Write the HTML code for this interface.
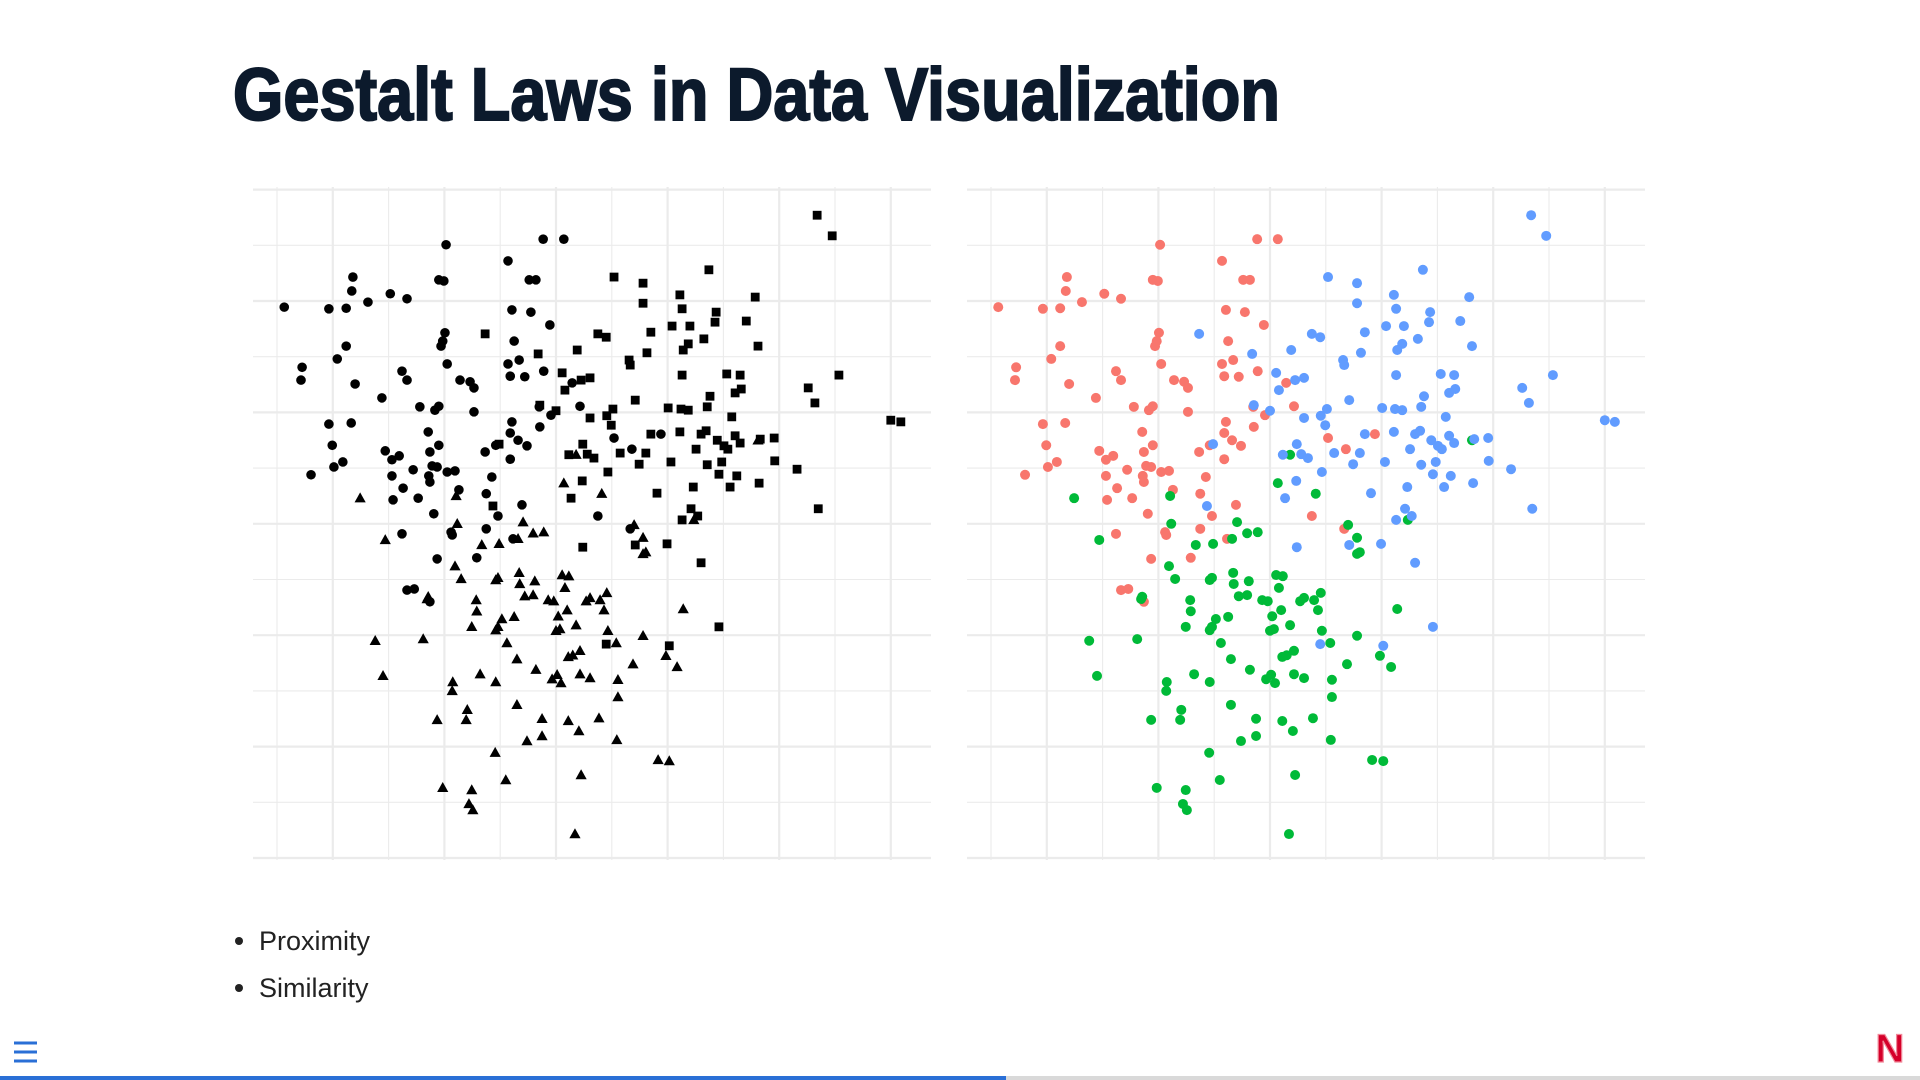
<!DOCTYPE html>
<html><head><meta charset="utf-8"><style>
html,body{margin:0;padding:0;background:#fff;width:1920px;height:1080px;overflow:hidden}
svg{display:block}
</style></head><body>
<svg id="page" width="1920" height="1080" viewBox="0 0 1920 1080" xmlns="http://www.w3.org/2000/svg">
<text x="233" y="120" font-family="Liberation Sans, sans-serif" font-weight="bold" font-size="74" fill="#0c1a2c" stroke="#0c1a2c" stroke-width="2" textLength="1047" lengthAdjust="spacingAndGlyphs">Gestalt Laws in Data Visualization</text>
<g id="left-panel"></g>
<g id="right-panel"></g>
<g font-family="Liberation Sans, sans-serif" font-size="27" fill="#222">
<circle cx="239" cy="941" r="4" fill="#222"/>
<text x="259" y="950">Proximity</text>
<circle cx="239" cy="988" r="4" fill="#222"/>
<text x="259" y="997">Similarity</text>
</g>
<g stroke="#2a6fd6" stroke-width="3">
<line x1="14" y1="1043" x2="37" y2="1043"/><line x1="14" y1="1052" x2="37" y2="1052"/><line x1="14" y1="1061" x2="37" y2="1061"/>
</g>
<rect x="0" y="1076" width="1920" height="4" fill="#d9d9d9"/>
<rect x="0" y="1076" width="1006" height="4" fill="#2a6fd6"/>
<text x="1890" y="1062" text-anchor="middle" font-family="Liberation Sans, sans-serif" font-weight="bold" font-size="40" fill="#d5002a" stroke="#f08a9a" stroke-width="1.2">N</text>
</svg>
<script>
const redX=[3.03,4.77,5.14,4.14,1.36,1.34,2.90,2.99,4.52,4.64,0.13,0.93,1.24,1.63,2.03,2.33,4.21,4.55,4.89,3.01,2.97,2.94,1.24,1.08,0.45,0.43,1.40,2.24,2.33,3.05,4.25,4.34,4.14,4.18,4.44,4.78,5.29,3.28,3.46,3.53,1.88,2.56,2.83,2.90,3.53,4.70,4.91,5.43,0.93,1.33,4.21,4.18,4.71,2.71,0.99,4.32,4.48,3.92,1.94,2.19,2.06,2.74,2.90,3.73,4.18,1.18,1.02,0.61,2.44,2.78,2.87,3.05,3.19,2.06,2.72,2.74,3.85,2.26,2.08,2.53,3.26,3.75,4.39,2.81,3.96,3.75,6.04,6.88,6.36,5.75,2.24,3.12,3.14,4.23,2.87,3.58,2.33,2.46,2.74,6.33];
const redY=[11.01,11.11,11.11,10.72,10.43,10.18,10.38,10.36,10.38,10.38,9.89,9.86,9.87,9.98,10.13,10.04,9.84,9.80,9.57,9.43,9.28,9.19,9.19,8.96,8.81,8.58,8.51,8.74,8.58,8.87,9.28,8.94,8.87,8.65,8.64,8.74,8.53,8.58,8.55,8.44,8.26,8.10,8.04,8.11,8.01,8.10,7.95,8.11,7.79,7.81,7.83,7.63,7.74,7.65,7.41,7.50,7.40,7.41,7.31,7.22,7.15,7.29,7.41,7.29,7.16,7.11,7.02,6.88,6.97,7.04,7.02,6.93,6.95,6.86,6.86,6.75,6.84,6.64,6.43,6.46,6.61,6.54,6.34,6.18,6.14,5.91,7.54,7.61,7.34,6.14,5.82,5.85,5.80,5.73,5.37,5.39,4.81,4.83,4.60,5.91];
const blueX=[3.73,4.68,5.38,5.11,5.45,5.16,4.71,5.00,3.98,5.48,5.23,5.56,5.47,5.27,3.87,9.68,9.95,7.74,6.04,6.56,8.57,7.22,6.56,7.26,7.87,7.85,8.41,6.70,7.08,7.40,5.75,5.90,7.65,7.37,7.28,8.62,6.63,6.31,6.33,5.61,7.26,8.06,8.30,10.07,9.52,9.64,8.32,8.21,7.76,6.42,7.01,7.24,7.37,7.71,6.02,5.91,5.61,5.99,8.15,11.00,11.18,6.70,7.22,7.60,7.69,8.21,7.89,8.01,8.08,8.30,8.66,8.91,7.51,6.15,6.61,5.68,6.49,7.06,7.71,7.97,8.92,9.32,5.93,7.92,8.24,8.64,8.12,7.46,6.81,9.70,7.42,7.54,7.26,5.48,6.42,6.99,7.60,7.92,5.90,7.03];
const blueY=[9.41,9.05,9.12,8.71,8.58,8.40,8.13,8.03,7.43,7.43,7.24,7.25,6.77,6.46,6.32,11.54,11.17,10.56,10.43,10.32,10.07,10.11,9.96,9.86,9.80,9.62,9.64,9.44,9.55,9.55,9.41,9.35,9.32,9.23,9.12,9.19,9.07,8.94,8.85,8.62,8.67,8.69,8.67,8.67,8.44,8.17,8.42,8.35,8.29,8.22,8.08,8.06,8.04,8.10,8.06,7.94,7.90,7.77,7.92,7.86,7.83,7.61,7.65,7.61,7.67,7.58,7.50,7.40,7.34,7.45,7.52,7.54,7.34,7.27,7.27,7.18,7.07,7.11,7.06,7.11,7.13,6.98,6.93,6.89,6.86,6.73,6.66,6.66,6.55,6.27,6.27,6.14,6.07,5.58,5.62,5.64,5.30,4.15,3.84,3.81];
const greenX=[1.49,3.21,5.14,5.36,3.23,4.41,8.62,5.82,6.40,7.47,1.94,4.59,4.78,4.32,3.67,3.98,3.19,3.30,3.92,3.96,4.34,4.35,4.62,5.11,5.23,5.16,4.44,4.59,4.86,4.96,5.54,5.61,2.69,2.71,3.57,3.58,4.03,4.25,5.20,5.04,3.49,3.92,3.96,5.00,5.07,5.36,1.76,2.62,4.12,4.30,4.64,5.22,5.30,5.43,1.90,3.64,3.92,3.15,3.14,4.93,5.02,5.09,5.43,5.61,4.30,3.41,3.39,2.87,4.75,5.22,5.41,4.75,4.48,3.91,5.45,4.10,2.97,3.49,3.44,3.51,5.34,6.56,6.56,6.61,5.79,5.91,5.86,7.28,5.93,6.56,6.08,6.97,6.38,7.17,6.11,6.11,5.77,6.09,6.83,7.03];
const greenY=[6.46,6.50,6.73,7.24,6.00,6.03,7.50,6.54,5.98,6.07,5.71,5.83,5.85,5.73,5.62,5.64,5.24,5.01,4.99,5.03,5.12,4.92,4.97,5.08,5.06,4.85,4.70,4.72,4.63,4.61,4.61,4.67,4.65,4.69,4.63,4.43,4.29,4.33,4.45,4.34,4.15,4.09,4.15,4.08,4.11,4.18,3.90,3.93,3.86,3.57,3.38,3.61,3.64,3.72,3.27,3.30,3.16,3.16,3.00,3.21,3.29,3.14,3.30,3.23,2.75,2.66,2.48,2.48,2.50,2.46,2.28,2.19,2.10,1.89,1.49,1.40,1.26,1.22,0.97,0.86,0.43,5.75,5.46,5.49,4.63,4.76,4.45,4.47,4.08,3.99,3.86,3.63,3.48,3.43,3.20,2.89,2.51,2.12,1.76,1.74];

const NS='http://www.w3.org/2000/svg';
const PLOT_TOP=187,PLOT_BOTTOM=860,PLOT_W=678,UNIT_X=55.8,UNIT_Y=55.7;
function yScale(v){return 858-v*UNIT_Y;}
function makeX(left){return v=>left+24+v*UNIT_X;}
function mk(tag,attrs,parent){const e=document.createElementNS(NS,tag);for(const k in attrs)e.setAttribute(k,attrs[k]);parent.appendChild(e);return e;}

function drawGrid(g,left){
  const xs=makeX(left);
  for(let j=0;j<=12;j++){
    const ln=mk('line',{x1:left,x2:left+PLOT_W,y1:yScale(j),y2:yScale(j),stroke:'#ebebeb','stroke-width':j%2===0?2.2:1.1},g);
    
    
  }
  for(let i=0;i<=11;i++){
    const ln=mk('line',{x1:xs(i),x2:xs(i),y1:PLOT_TOP,y2:PLOT_BOTTOM,stroke:'#ebebeb','stroke-width':i%2===1?2.2:1.1},g);
    
    
  }
}
const left=document.getElementById('left-panel');
const right=document.getElementById('right-panel');
drawGrid(left,253);
drawGrid(right,967);
const xl=makeX(253), xr=makeX(967);

redX.forEach((v,i)=>{
  const c=mk('circle',{cx:xl(v),cy:yScale(redY[i]),r:4.8,fill:'#000'},left);
  
  
});
blueX.forEach((v,i)=>{
  const s=8.8;
  const r=mk('rect',{x:xl(v)-s/2,y:yScale(blueY[i])-s/2,width:s,height:s,fill:'#000'},left);
  
  
});
greenX.forEach((v,i)=>{
  const cx=xl(v),cy=yScale(greenY[i]);
  const p=mk('polygon',{points:`${cx},${cy-5.8} ${cx-5.6},${cy+4.2} ${cx+5.6},${cy+4.2}`,fill:'#000'},left);
  
  
});
redX.forEach((v,i)=>{
  const c=mk('circle',{cx:xr(v),cy:yScale(redY[i]),r:5,fill:'#F8766D'},right);
  
  
});
greenX.forEach((v,i)=>{
  const c=mk('circle',{cx:xr(v),cy:yScale(greenY[i]),r:5,fill:'#00BA38'},right);
  
  
});
blueX.forEach((v,i)=>{
  const c=mk('circle',{cx:xr(v),cy:yScale(blueY[i]),r:5,fill:'#619CFF'},right);
  
  
});
</script>
</body></html>
